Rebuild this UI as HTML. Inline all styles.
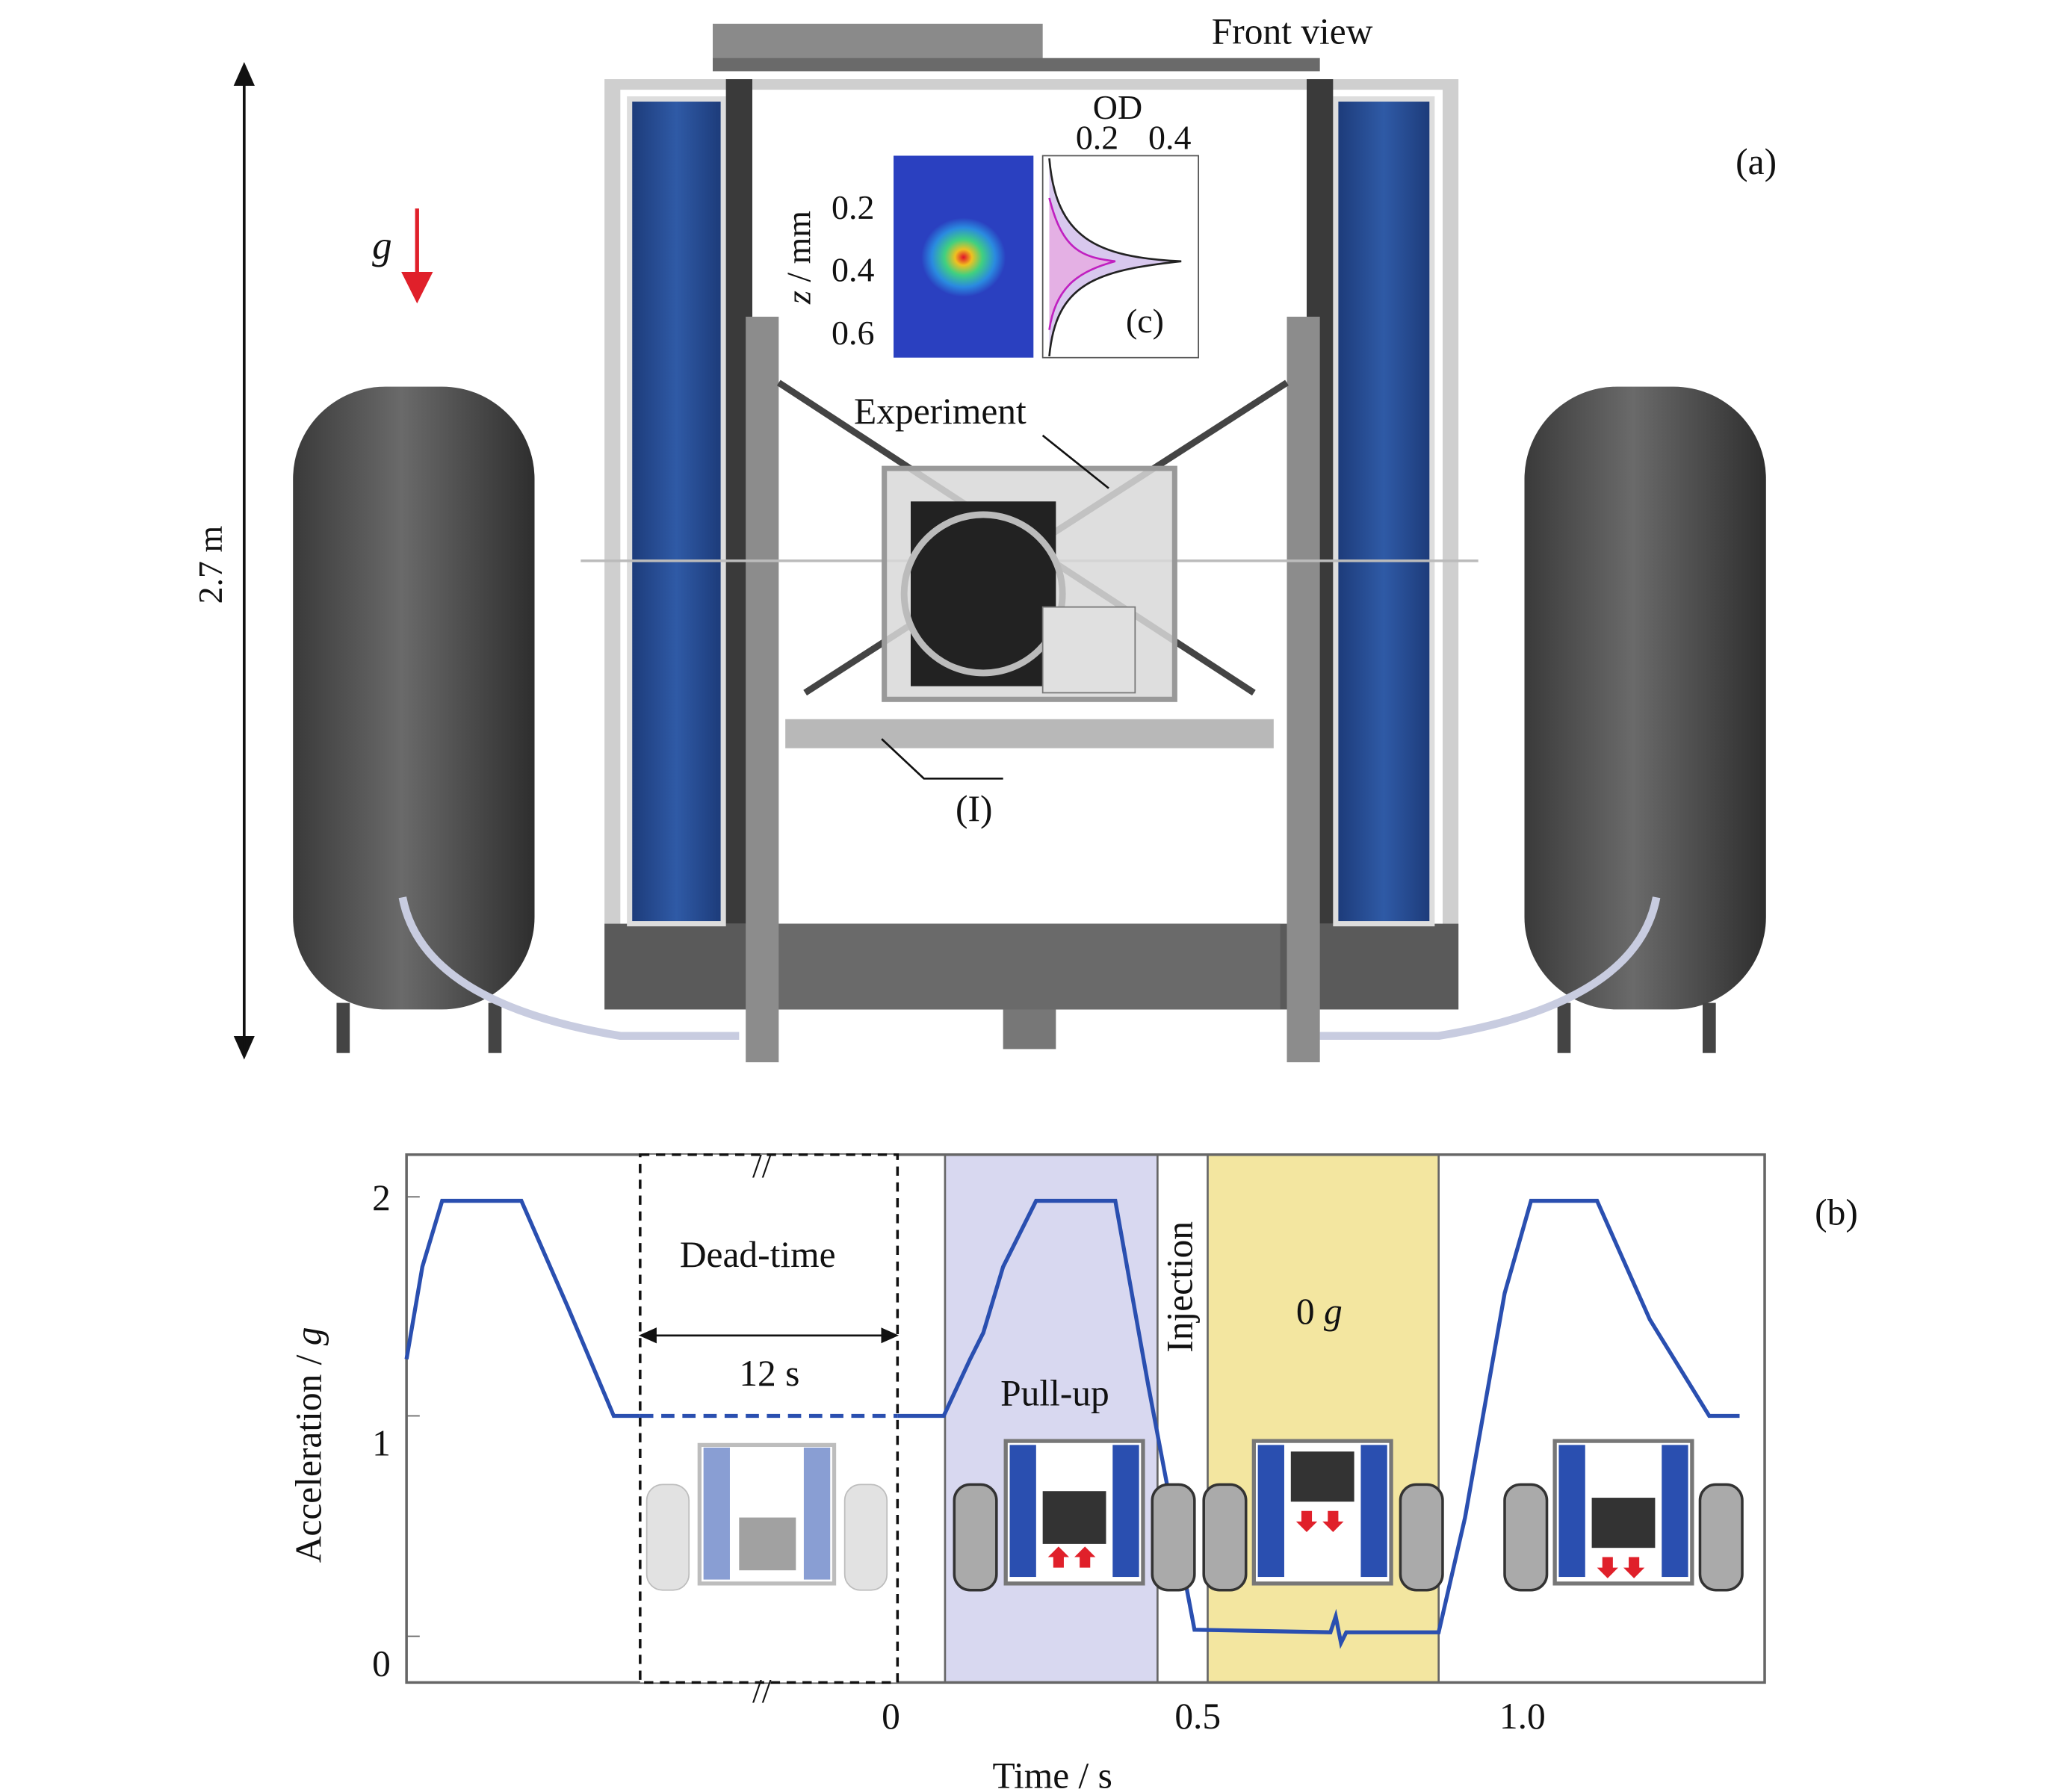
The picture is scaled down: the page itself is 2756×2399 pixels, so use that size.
<!DOCTYPE html>
<html><head><meta charset="utf-8"><style>
html,body{margin:0;padding:0;background:#fff}
svg{display:block}
text{font-family:"Liberation Serif",serif;fill:#111}
</style></head><body>
<svg width="2756" height="2399" viewBox="0 0 1560 1358" preserveAspectRatio="none" xmlns="http://www.w3.org/2000/svg">
<defs>
<linearGradient id="tank" x1="0" x2="1"><stop offset="0" stop-color="#3a3a3a"/><stop offset="0.45" stop-color="#6a6a6a"/><stop offset="1" stop-color="#2e2e2e"/></linearGradient>
<linearGradient id="blue" x1="0" x2="1"><stop offset="0" stop-color="#1c3a78"/><stop offset="0.5" stop-color="#2f5aa6"/><stop offset="1" stop-color="#1c3a78"/></linearGradient>
<radialGradient id="cloud"><stop offset="0" stop-color="#e0102a"/><stop offset="0.2" stop-color="#f0c020"/><stop offset="0.45" stop-color="#40d080"/><stop offset="0.75" stop-color="#2a8ae0"/><stop offset="1" stop-color="#2a40c0"/></radialGradient>
<marker id="ah" markerWidth="10" markerHeight="10" refX="5" refY="5" orient="auto"><path d="M0,1 L9,5 L0,9 z" fill="#111"/></marker>
<marker id="ahr" markerWidth="8" markerHeight="8" refX="4" refY="4" orient="auto"><path d="M0,0 L8,4 L0,8 z" fill="#e0202a"/></marker>
</defs>

<line x1="185" y1="55" x2="185" y2="795" stroke="#111" stroke-width="2" marker-end="url(#ah)"/>
<line x1="185" y1="795" x2="185" y2="55" stroke="#111" stroke-width="2" marker-end="url(#ah)"/>
<text x="168" y="428" font-size="26" transform="rotate(-90 168 428)" text-anchor="middle">2.7 m</text>
<text x="282" y="196" font-size="30" font-style="italic">g</text>
<line x1="316" y1="158" x2="316" y2="218" stroke="#e0202a" stroke-width="3" marker-end="url(#ahr)"/>

<rect x="222" y="293" width="183" height="472" rx="70" fill="url(#tank)"/>
<rect x="1155" y="293" width="183" height="472" rx="70" fill="url(#tank)"/>
<rect x="255" y="760" width="10" height="38" fill="#444"/><rect x="370" y="760" width="10" height="38" fill="#444"/>
<rect x="1180" y="760" width="10" height="38" fill="#444"/><rect x="1290" y="760" width="10" height="38" fill="#444"/>
<path d="M305,680 Q320,760 470,785 L560,785" stroke="#c8cce0" stroke-width="6" fill="none"/>
<path d="M1255,680 Q1240,760 1090,785 L1000,785" stroke="#c8cce0" stroke-width="6" fill="none"/>

<rect x="458" y="60" width="647" height="705" fill="#cfcfcf"/>
<rect x="470" y="68" width="623" height="635" fill="#fff"/>
<rect x="458" y="700" width="647" height="65" fill="#5a5a5a"/>
<rect x="590" y="700" width="380" height="65" fill="#6a6a6a"/>
<rect x="477" y="75" width="71" height="625" fill="url(#blue)" stroke="#ddd" stroke-width="4"/>
<rect x="1012" y="75" width="73" height="625" fill="url(#blue)" stroke="#ddd" stroke-width="4"/>
<rect x="550" y="60" width="20" height="640" fill="#3a3a3a"/>
<rect x="990" y="60" width="20" height="640" fill="#3a3a3a"/>
<rect x="540" y="18" width="250" height="30" fill="#8a8a8a"/>
<rect x="540" y="44" width="460" height="10" fill="#6a6a6a"/>
<rect x="565" y="240" width="25" height="565" fill="#8c8c8c"/>
<rect x="975" y="240" width="25" height="565" fill="#8c8c8c"/>
<line x1="440" y1="425" x2="1120" y2="425" stroke="#bbb" stroke-width="2"/>
<line x1="590" y1="290" x2="950" y2="525" stroke="#444" stroke-width="5"/>
<line x1="975" y1="290" x2="610" y2="525" stroke="#444" stroke-width="5"/>
<rect x="670" y="355" width="220" height="175" fill="#d8d8d8" fill-opacity="0.85" stroke="#999" stroke-width="4"/>
<rect x="690" y="380" width="110" height="140" fill="#222"/>
<circle cx="745" cy="450" r="60" fill="none" stroke="#bbb" stroke-width="5"/>
<rect x="790" y="460" width="70" height="65" fill="#e0e0e0" stroke="#777"/>
<rect x="595" y="545" width="370" height="22" fill="#b8b8b8"/>
<rect x="760" y="765" width="40" height="30" fill="#777"/>
<text x="918" y="33" font-size="28">Front view</text>
<text x="1315" y="132" font-size="28">(a)</text>
<text x="647" y="321" font-size="28">Experiment</text>
<line x1="790" y1="330" x2="840" y2="370" stroke="#111" stroke-width="1.5"/>
<text x="724" y="622" font-size="28">(I)</text>
<polyline points="668,560 700,590 760,590" fill="none" stroke="#111" stroke-width="1.5"/>

<rect x="677" y="118" width="106" height="153" fill="#2a40c0"/>
<ellipse cx="730" cy="195" rx="32" ry="30" fill="url(#cloud)"/>
<rect x="790" y="118" width="118" height="153" fill="#fff" stroke="#555"/>
<path d="M795,120 C800,180 830,195 895,198 C830,205 800,215 795,270" fill="#d8c8ee" stroke="#222" stroke-width="1.5"/>
<path d="M795,150 C805,190 820,195 845,198 C820,205 800,215 795,250" fill="#e4b0e4" stroke="#c020c0" stroke-width="1.5"/>
<text x="828" y="90" font-size="26">OD</text>
<text x="815" y="113" font-size="26">0.2</text><text x="870" y="113" font-size="26">0.4</text>
<text x="630" y="166" font-size="26">0.2</text><text x="630" y="213" font-size="26">0.4</text><text x="630" y="261" font-size="26">0.6</text>
<text x="614" y="195" font-size="26" transform="rotate(-90 614 195)" text-anchor="middle"><tspan font-style="italic">z</tspan> / mm</text>
<text x="853" y="252" font-size="26">(c)</text>

<rect x="915" y="875" width="175" height="400" fill="#f3e6a0" stroke="#666" stroke-width="1.5"/>
<rect x="716" y="875" width="161" height="400" fill="#d8d8f0" stroke="#666" stroke-width="1.5"/>
<rect x="308" y="875" width="1029" height="400" fill="none" stroke="#666" stroke-width="2"/>
<rect x="485" y="875" width="195" height="400" fill="#fff" stroke="#111" stroke-width="2" stroke-dasharray="7,5"/>
<line x1="308" y1="907" x2="318" y2="907" stroke="#666"/><line x1="308" y1="1073" x2="318" y2="1073" stroke="#666"/><line x1="308" y1="1240" x2="318" y2="1240" stroke="#666"/>
<text x="570" y="892" font-size="26">//</text><text x="570" y="1290" font-size="26">//</text>
<path d="M308,1030 L320,960 L335,910 L395,910 L430,990 L465,1073 L485,1073" fill="none" stroke="#2a4fb0" stroke-width="3"/>
<line x1="485" y1="1073" x2="680" y2="1073" stroke="#2a4fb0" stroke-width="3" stroke-dasharray="10,6"/>
<path d="M680,1073 L715,1073 L735,1030 L745,1010 L760,960 L785,910 L845,910 L870,1050 L905,1235 L1008,1237 L1012,1225 L1016,1245 L1020,1237 L1090,1237 L1110,1150 L1140,980 L1160,910 L1210,910 L1250,1000 L1295,1073 L1318,1073" fill="none" stroke="#2a4fb0" stroke-width="3"/>
<text x="515" y="960" font-size="28">Dead-time</text>
<line x1="490" y1="1012" x2="675" y2="1012" stroke="#111" stroke-width="1.5" marker-end="url(#ah)"/>
<line x1="675" y1="1012" x2="490" y2="1012" stroke="#111" stroke-width="1.5" marker-end="url(#ah)"/>
<text x="560" y="1050" font-size="28">12 s</text>
<text x="758" y="1065" font-size="28">Pull-up</text>
<text x="903" y="1025" font-size="28" transform="rotate(-90 903 1025)">Injection</text>
<text x="982" y="1003" font-size="28">0 <tspan font-style="italic">g</tspan></text>
<text x="1375" y="928" font-size="28">(b)</text>
<text x="282" y="917" font-size="28">2</text><text x="282" y="1103" font-size="28">1</text><text x="282" y="1270" font-size="28">0</text>
<text x="668" y="1310" font-size="28">0</text><text x="890" y="1310" font-size="28">0.5</text><text x="1136" y="1310" font-size="28">1.0</text>
<text x="752" y="1355" font-size="28">Time / s</text>
<text x="243" y="1095" font-size="28" transform="rotate(-90 243 1095)" text-anchor="middle">Acceleration / <tspan font-style="italic">g</tspan></text>

<g opacity="0.55">
<rect x="490" y="1125" width="32" height="80" rx="12" fill="#ccc" stroke="#888"/>
<rect x="640" y="1125" width="32" height="80" rx="12" fill="#ccc" stroke="#888"/>
<rect x="530" y="1095" width="102" height="105" fill="#fff" stroke="#888" stroke-width="3"/>
<rect x="533" y="1097" width="20" height="100" fill="#2a4fb0"/><rect x="609" y="1097" width="20" height="100" fill="#2a4fb0"/>
<rect x="560" y="1150" width="43" height="40" fill="#555"/>
</g>
<g>
<rect x="723" y="1125" width="32" height="80" rx="12" fill="#aaa" stroke="#333" stroke-width="2"/>
<rect x="873" y="1125" width="32" height="80" rx="12" fill="#aaa" stroke="#333" stroke-width="2"/>
<rect x="762" y="1092" width="104" height="108" fill="#fff" stroke="#777" stroke-width="3"/>
<rect x="765" y="1095" width="20" height="100" fill="#2a4fb0"/><rect x="843" y="1095" width="20" height="100" fill="#2a4fb0"/>
<rect x="790" y="1130" width="48" height="40" fill="#333"/>
<path d="M798,1188 L798,1180 L794,1180 L802,1172 L810,1180 L806,1180 L806,1188 Z M818,1188 L818,1180 L814,1180 L822,1172 L830,1180 L826,1180 L826,1188 Z" fill="#e0202a"/>
</g>
<g>
<rect x="912" y="1125" width="32" height="80" rx="12" fill="#aaa" stroke="#333" stroke-width="2"/>
<rect x="1061" y="1125" width="32" height="80" rx="12" fill="#aaa" stroke="#333" stroke-width="2"/>
<rect x="950" y="1092" width="104" height="108" fill="#fff" stroke="#777" stroke-width="3"/>
<rect x="953" y="1095" width="20" height="100" fill="#2a4fb0"/><rect x="1031" y="1095" width="20" height="100" fill="#2a4fb0"/>
<rect x="978" y="1100" width="48" height="38" fill="#333"/>
<path d="M986,1145 L986,1153 L982,1153 L990,1161 L998,1153 L994,1153 L994,1145 Z M1006,1145 L1006,1153 L1002,1153 L1010,1161 L1018,1153 L1014,1153 L1014,1145 Z" fill="#e0202a"/>
</g>
<g>
<rect x="1140" y="1125" width="32" height="80" rx="12" fill="#aaa" stroke="#333" stroke-width="2"/>
<rect x="1288" y="1125" width="32" height="80" rx="12" fill="#aaa" stroke="#333" stroke-width="2"/>
<rect x="1178" y="1092" width="104" height="108" fill="#fff" stroke="#777" stroke-width="3"/>
<rect x="1181" y="1095" width="20" height="100" fill="#2a4fb0"/><rect x="1259" y="1095" width="20" height="100" fill="#2a4fb0"/>
<rect x="1206" y="1135" width="48" height="38" fill="#333"/>
<path d="M1214,1180 L1214,1188 L1210,1188 L1218,1196 L1226,1188 L1222,1188 L1222,1180 Z M1234,1180 L1234,1188 L1230,1188 L1238,1196 L1246,1188 L1242,1188 L1242,1180 Z" fill="#e0202a"/>
</g>
</svg>
</body></html>
